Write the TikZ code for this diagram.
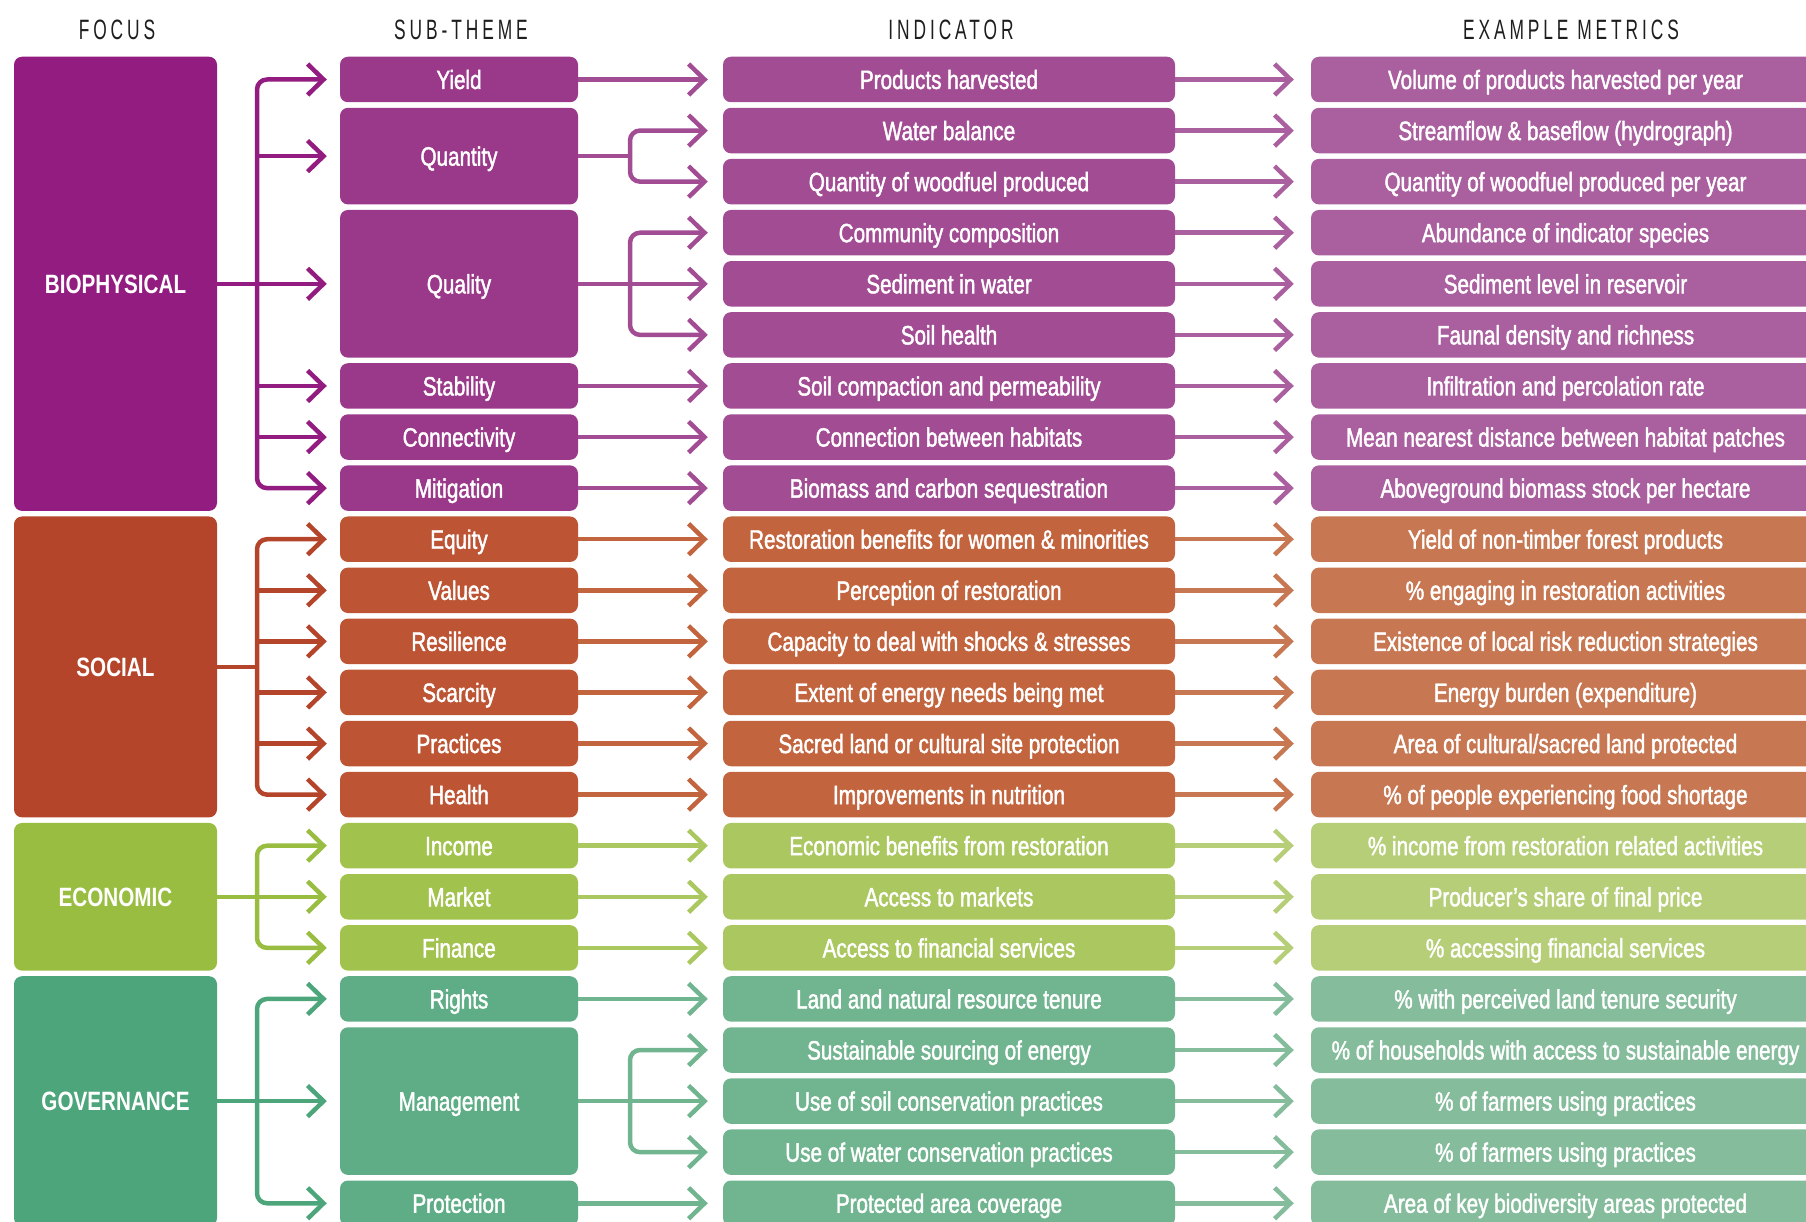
\documentclass[tikz,border=0pt]{standalone}
\usepackage{fontspec}
\setmainfont{Liberation Sans}[FakeStretch=0.78, UprightFeatures={FakeBold=1.6}]
\newfontfamily\hdfont{Liberation Sans}[FakeStretch=0.62,LetterSpace=14]
\usetikzlibrary{arrows.meta}
% colours: 1 focus, 2 sub-theme, 3 indicator, 4 metric
\definecolor{bA}{HTML}{921C7F}\definecolor{bB}{HTML}{9A3889}\definecolor{bC}{HTML}{A24C93}\definecolor{bD}{HTML}{AA5F9F}
\definecolor{sA}{HTML}{B4442A}\definecolor{sB}{HTML}{BD5535}\definecolor{sC}{HTML}{C2653F}\definecolor{sD}{HTML}{C77752}
\definecolor{eA}{HTML}{98BD40}\definecolor{eB}{HTML}{A2C24E}\definecolor{eC}{HTML}{ABC760}\definecolor{eD}{HTML}{B6CE78}
\definecolor{gA}{HTML}{4DA67B}\definecolor{gB}{HTML}{5FAD86}\definecolor{gC}{HTML}{71B490}\definecolor{gD}{HTML}{84BC9C}
\definecolor{hdcol}{HTML}{1E1E1E}
\newcommand\RY[1]{79.5+51.08*#1}
\newcommand\IMrow[5]{%
  \node[ibox, fill=#2] (i#1) at (949,{\RY{#1}}) {#4};
  \node[mbox, fill=#3] (m#1) at (1565.5,{\RY{#1}}) {#5};
  \draw[arr, draw=#3, shorten >=17pt] (i#1.east) -- (m#1.west);}
\begin{document}
\begin{tikzpicture}[x=1pt,y=-1pt,
  box/.style={rounded corners=8pt, inner sep=0pt, text=white,
    font=\fontsize{26.5}{30}\selectfont, minimum height=45.5pt,
    text height=19pt, text depth=0pt, anchor=center},
  fbox/.style={box, minimum width=203pt, font=\fontsize{26.5}{30}\selectfont\bfseries},
  sbox/.style={box, minimum width=238pt},
  ibox/.style={box, minimum width=452pt},
  mbox/.style={box, minimum width=509pt},
  hd/.style={text=hdcol, inner sep=0pt, text height=20pt, text depth=0pt,
    font=\hdfont\fontsize{28}{30}\selectfont},
  ln/.style={line width=4.5pt},
  arr/.style={line width=4.5pt, -{Straight Barb[length=16pt,width=31pt]}},
  fa/.style={arr, shorten >=13pt},
  sa/.style={arr, shorten >=15pt},
  brk/.style={rounded corners=10pt}]
\useasboundingbox (0,0) rectangle (1806,1222);
\clip (0,0) rectangle (1806,1222);
\coordinate (bx) at (257,0);
\coordinate (bx2) at (630,0);

% headers
\node[hd] (h1) at (117,30) {FOCUS};
\node[hd] (h2) at (461,30) {SUB-THEME};
\node[hd] (h3) at (951,30) {INDICATOR};
\node[hd] (h4) at (1571,30) {EXAMPLE METRICS};

% focus boxes
\node[fbox, fill=bA, minimum height={51.08*8+45.5}] (fbio) at (115.5,{\RY{4}}) {BIOPHYSICAL};
\node[fbox, fill=sA, minimum height={51.08*5+45.5}] (fsoc) at (115.5,{\RY{11.5}}) {SOCIAL};
\node[fbox, fill=eA, minimum height={51.08*2+45.5}] (feco) at (115.5,{\RY{16}}) {ECONOMIC};
\node[fbox, fill=gA, minimum height={51.08*4+45.5}] (fgov) at (115.5,{\RY{20}}) {GOVERNANCE};

% sub-themes
\node[sbox, fill=bB] (yield) at (459,{\RY{0}}) {Yield};
\node[sbox, fill=bB, minimum height={51.08+45.5}] (quant) at (459,{\RY{1.5}}) {Quantity};
\node[sbox, fill=bB, minimum height={51.08*2+45.5}] (qual) at (459,{\RY{4}}) {Quality};
\node[sbox, fill=bB] (stab) at (459,{\RY{6}}) {Stability};
\node[sbox, fill=bB] (conn) at (459,{\RY{7}}) {Connectivity};
\node[sbox, fill=bB] (mitig) at (459,{\RY{8}}) {Mitigation};
\node[sbox, fill=sB] (equity) at (459,{\RY{9}}) {Equity};
\node[sbox, fill=sB] (values) at (459,{\RY{10}}) {Values};
\node[sbox, fill=sB] (resil) at (459,{\RY{11}}) {Resilience};
\node[sbox, fill=sB] (scarc) at (459,{\RY{12}}) {Scarcity};
\node[sbox, fill=sB] (pract) at (459,{\RY{13}}) {Practices};
\node[sbox, fill=sB] (health) at (459,{\RY{14}}) {Health};
\node[sbox, fill=eB] (income) at (459,{\RY{15}}) {Income};
\node[sbox, fill=eB] (market) at (459,{\RY{16}}) {Market};
\node[sbox, fill=eB] (finance) at (459,{\RY{17}}) {Finance};
\node[sbox, fill=gB] (rights) at (459,{\RY{18}}) {Rights};
\node[sbox, fill=gB, minimum height={51.08*2+45.5}] (manage) at (459,{\RY{20}}) {Management};
\node[sbox, fill=gB] (protect) at (459,{\RY{22}}) {Protection};

% indicators and metrics
\IMrow{0}{bC}{bD}{Products harvested}{Volume of products harvested per year}
\IMrow{1}{bC}{bD}{Water balance}{Streamflow \& baseflow (hydrograph)}
\IMrow{2}{bC}{bD}{Quantity of woodfuel produced}{Quantity of woodfuel produced per year}
\IMrow{3}{bC}{bD}{Community composition}{Abundance of indicator species}
\IMrow{4}{bC}{bD}{Sediment in water}{Sediment level in reservoir}
\IMrow{5}{bC}{bD}{Soil health}{Faunal density and richness}
\IMrow{6}{bC}{bD}{Soil compaction and permeability}{Infiltration and percolation rate}
\IMrow{7}{bC}{bD}{Connection between habitats}{Mean nearest distance between habitat patches}
\IMrow{8}{bC}{bD}{Biomass and carbon sequestration}{Aboveground biomass stock per hectare}
\IMrow{9}{sC}{sD}{Restoration benefits for women \& minorities}{Yield of non-timber forest products}
\IMrow{10}{sC}{sD}{Perception of restoration}{\% engaging in restoration activities}
\IMrow{11}{sC}{sD}{Capacity to deal with shocks \& stresses}{Existence of local risk reduction strategies}
\IMrow{12}{sC}{sD}{Extent of energy needs being met}{Energy burden (expenditure)}
\IMrow{13}{sC}{sD}{Sacred land or cultural site protection}{Area of cultural/sacred land protected}
\IMrow{14}{sC}{sD}{Improvements in nutrition}{\% of people experiencing food shortage}
\IMrow{15}{eC}{eD}{Economic benefits from restoration}{\% income from restoration related activities}
\IMrow{16}{eC}{eD}{Access to markets}{Producer’s share of final price}
\IMrow{17}{eC}{eD}{Access to financial services}{\% accessing financial services}
\IMrow{18}{gC}{gD}{Land and natural resource tenure}{\% with perceived land tenure security}
\IMrow{19}{gC}{gD}{Sustainable sourcing of energy}{\% of households with access to sustainable energy}
\IMrow{20}{gC}{gD}{Use of soil conservation practices}{\% of farmers using practices}
\IMrow{21}{gC}{gD}{Use of water conservation practices}{\% of farmers using practices}
\IMrow{22}{gC}{gD}{Protected area coverage}{Area of key biodiversity areas protected}

% focus -> sub-theme : biophysical
\draw[fa, draw=bA] (fbio.east) -- (qual.west);
\draw[fa, brk, draw=bA] (bx |- fbio.east) |- (yield.west);
\draw[fa, brk, draw=bA] (bx |- fbio.east) |- (mitig.west);
\draw[fa, draw=bA] (bx |- quant.west) -- (quant.west);
\draw[fa, draw=bA] (bx |- stab.west) -- (stab.west);
\draw[fa, draw=bA] (bx |- conn.west) -- (conn.west);
% social
\draw[ln, draw=sA] (fsoc.east) -- (bx |- fsoc.east);
\draw[fa, brk, draw=sA] (bx |- fsoc.east) |- (equity.west);
\draw[fa, brk, draw=sA] (bx |- fsoc.east) |- (health.west);
\draw[fa, draw=sA] (bx |- values.west) -- (values.west);
\draw[fa, draw=sA] (bx |- resil.west) -- (resil.west);
\draw[fa, draw=sA] (bx |- scarc.west) -- (scarc.west);
\draw[fa, draw=sA] (bx |- pract.west) -- (pract.west);
% economic
\draw[fa, draw=eA] (feco.east) -- (market.west);
\draw[fa, brk, draw=eA] (bx |- feco.east) |- (income.west);
\draw[fa, brk, draw=eA] (bx |- feco.east) |- (finance.west);
% governance
\draw[fa, draw=gA] (fgov.east) -- (manage.west);
\draw[fa, brk, draw=gA] (bx |- fgov.east) |- (rights.west);
\draw[fa, brk, draw=gA] (bx |- fgov.east) |- (protect.west);

% sub-theme -> indicator
\draw[sa, draw=bC] (yield.east) -- (i0.west);
\draw[ln, draw=bC] (quant.east) -- (bx2 |- quant.east);
\draw[sa, brk, draw=bC] (bx2 |- quant.east) |- (i1.west);
\draw[sa, brk, draw=bC] (bx2 |- quant.east) |- (i2.west);
\draw[sa, draw=bC] (qual.east) -- (i4.west);
\draw[sa, brk, draw=bC] (bx2 |- qual.east) |- (i3.west);
\draw[sa, brk, draw=bC] (bx2 |- qual.east) |- (i5.west);
\draw[sa, draw=bC] (stab.east) -- (i6.west);
\draw[sa, draw=bC] (conn.east) -- (i7.west);
\draw[sa, draw=bC] (mitig.east) -- (i8.west);
\draw[sa, draw=sC] (equity.east) -- (i9.west);
\draw[sa, draw=sC] (values.east) -- (i10.west);
\draw[sa, draw=sC] (resil.east) -- (i11.west);
\draw[sa, draw=sC] (scarc.east) -- (i12.west);
\draw[sa, draw=sC] (pract.east) -- (i13.west);
\draw[sa, draw=sC] (health.east) -- (i14.west);
\draw[sa, draw=eC] (income.east) -- (i15.west);
\draw[sa, draw=eC] (market.east) -- (i16.west);
\draw[sa, draw=eC] (finance.east) -- (i17.west);
\draw[sa, draw=gC] (rights.east) -- (i18.west);
\draw[sa, draw=gC] (manage.east) -- (i20.west);
\draw[sa, brk, draw=gC] (bx2 |- manage.east) |- (i19.west);
\draw[sa, brk, draw=gC] (bx2 |- manage.east) |- (i21.west);
\draw[sa, draw=gC] (protect.east) -- (i22.west);
\end{tikzpicture}
\end{document}
